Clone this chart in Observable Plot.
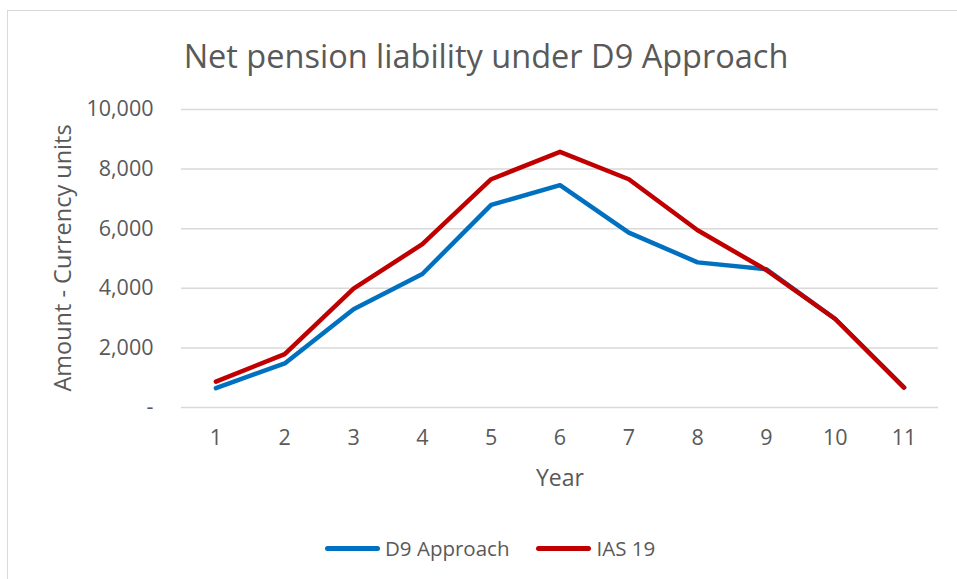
<!DOCTYPE html>
<html>
<head>
<meta charset="utf-8">
<script src="https://cdn.jsdelivr.net/npm/d3@7"></script>
<script src="https://cdn.jsdelivr.net/npm/@observablehq/plot@0.6"></script>
<style>
  html, body { margin: 0; padding: 0; background: #fff; }
  #wrap { position: relative; width: 957px; height: 579px; overflow: hidden; font-family: "Open Sans", sans-serif; color: #595959; }
  #frame { position: absolute; left: 7px; top: 10px; width: 960px; height: 580px; border-top: 1.5px solid #d9d9d9; border-left: 1.5px solid #d9d9d9; }
  #chart { position: absolute; left: 0; top: 0; }
  .title { position: absolute; left: 486px; top: 55px; transform: translate(-50%, -50%); font-size: 32.5px; white-space: nowrap; }
  .ylab { position: absolute; left: 62px; top: 258px; transform: translate(-50%, -50%) rotate(-90deg); font-size: 23.5px; white-space: nowrap; }
  .xlab { position: absolute; left: 560px; top: 477px; transform: translate(-50%, -50%); font-size: 23px; }
  .legend { position: absolute; top: 548px; left: 325px; transform: translateY(-50%); display: flex; align-items: center; font-size: 20.5px; white-space: nowrap; }
  .sw { display: inline-block; width: 55px; height: 5px; border-radius: 3px; margin-right: 5px; }
</style>
</head>
<body>
<div id="wrap">
  <div id="frame"></div>
  <div id="chart"></div>
  <div class="title">Net pension liability under D9 Approach</div>
  <div class="ylab">Amount - Currency units</div>
  <div class="xlab">Year</div>
  <div class="legend" id="legend"></div>
</div>
<script>
const years = [1, 2, 3, 4, 5, 6, 7, 8, 9, 10, 11];
const d9Approach = [650, 1480, 3300, 4480, 6800, 7460, 5870, 4870, 4640, 2970, 670];
const ias19 = [870, 1790, 3990, 5480, 7660, 8580, 7660, 5950, 4610, 2970, 670];
const yTicks = [0, 2000, 4000, 6000, 8000, 10000];
const seriesNames = ["D9 Approach", "IAS 19"];
const seriesColors = ["#0070c0", "#c00000"];

const rows = [];
years.forEach((yr, i) => {
  rows.push({year: yr, value: d9Approach[i], series: seriesNames[0]});
});
years.forEach((yr, i) => {
  rows.push({year: yr, value: ias19[i], series: seriesNames[1]});
});

const fmt = d3.format(",");
const chart = Plot.plot({
  width: 957,
  height: 579,
  marginLeft: 181,
  marginRight: 19,
  marginTop: 109,
  marginBottom: 172,
  style: {fontFamily: "Open Sans, sans-serif", fontSize: "21.5px", color: "#595959", background: "transparent"},
  x: {domain: [0.5, 11.5]},
  y: {domain: [0, 10000]},
  color: {domain: seriesNames, range: seriesColors},
  marks: [
    Plot.gridY(yTicks, {stroke: "#d9d9d9", strokeOpacity: 1, strokeWidth: 1.5}),
    Plot.axisY(yTicks, {tickSize: 0, tickPadding: 28, tickFormat: d => d === 0 ? "-" : fmt(d), label: null, fill: "#595959"}),
    Plot.axisX(years, {tickSize: 0, tickPadding: 22, tickFormat: d => String(d), label: null, fill: "#595959"}),
    Plot.line(rows, {x: "year", y: "value", z: "series", stroke: "series", strokeWidth: 4.5, strokeLinecap: "round", strokeLinejoin: "round"})
  ]
});
document.getElementById("chart").appendChild(chart);

const legend = document.getElementById("legend");
seriesNames.forEach((name, i) => {
  const item = document.createElement("span");
  item.style.display = "inline-flex";
  item.style.alignItems = "center";
  item.style.marginRight = i === 0 ? "27px" : "0";
  const sw = document.createElement("span");
  sw.className = "sw";
  sw.style.background = seriesColors[i];
  const t = document.createElement("span");
  t.textContent = name;
  item.appendChild(sw);
  item.appendChild(t);
  legend.appendChild(item);
});
</script>
</body>
</html>
